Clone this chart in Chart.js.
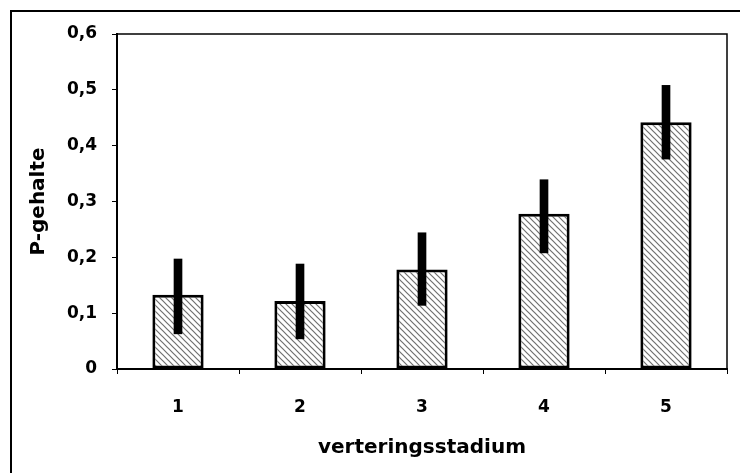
<!DOCTYPE html>
<html>
<head>
<meta charset="utf-8">
<script src="https://cdn.jsdelivr.net/npm/chart.js@4.4.1/dist/chart.umd.min.js"></script>
<style>
  html, body { margin: 0; padding: 0; background: #fff; }
  #wrap { position: relative; width: 740px; height: 473px; }
</style>
</head>
<body>
<div id="wrap"><canvas id="c"></canvas></div>
<script>
// ---- data ----
const categories = ['1', '2', '3', '4', '5'];
const pGehalte = [0.133, 0.122, 0.178, 0.278, 0.442];
const errLow   = [0.063, 0.054, 0.114, 0.208, 0.376];
const errHigh  = [0.197, 0.188, 0.244, 0.339, 0.508];
const yTickLabels = ['0', '0,1', '0,2', '0,3', '0,4', '0,5', '0,6'];
const xTitle = 'verteringsstadium';
const yTitle = 'P-gehalte';

// ---- hatch pattern ----
function makePattern() {
  const s = 6;
  const pc = document.createElement('canvas');
  pc.width = s; pc.height = s;
  const g = pc.getContext('2d');
  g.fillStyle = '#ffffff';
  g.fillRect(0, 0, s, s);
  g.strokeStyle = '#707070';
  g.lineWidth = 1.2;
  g.beginPath();
  g.moveTo(0, 0); g.lineTo(s, s);
  g.moveTo(-1, s - 1); g.lineTo(1, s + 1);
  g.moveTo(s - 1, -1); g.lineTo(s + 1, 1);
  g.stroke();
  return document.getElementById('c').getContext('2d').createPattern(pc, 'repeat');
}

const frames = {
  id: 'frames',
  beforeDraw(chart) {
    const ctx = chart.ctx;
    ctx.save();
    ctx.strokeStyle = '#000';
    ctx.lineWidth = 2;
    ctx.beginPath();
    ctx.moveTo(11, 473); ctx.lineTo(11, 11); ctx.lineTo(740, 11);
    ctx.stroke();
    ctx.restore();
  },
  beforeDatasetsDraw(chart) {
    const a = chart.chartArea;
    const ctx = chart.ctx;
    ctx.save();
    ctx.strokeStyle = '#000';
    ctx.lineWidth = 1.5;
    ctx.strokeRect(a.left, a.top, a.right - a.left, a.bottom - a.top);
    ctx.restore();
  }
};

const tickFont = { family: '"DejaVu Sans"', size: 17, weight: 'bold' };
const titleFont = { family: '"DejaVu Sans"', size: 20, weight: 'bold' };

new Chart(document.getElementById('c'), {
  type: 'bar',
  data: {
    labels: categories,
    datasets: [
      {
        label: 'err',
        data: categories.map((_, i) => [errLow[i], errHigh[i]]),
        backgroundColor: '#000',
        borderWidth: 0,
        barThickness: 8,
        grouped: false,
        order: 0
      },
      {
        label: yTitle,
        data: pGehalte,
        backgroundColor: makePattern(),
        borderColor: '#000',
        borderWidth: 3,
        borderSkipped: false,
        barPercentage: 0.42,
        categoryPercentage: 1,
        grouped: false,
        order: 1
      }
    ]
  },
  options: {
    responsive: true,
    maintainAspectRatio: false,
    animation: false,
    layout: { padding: { top: 34, right: 13, left: 0, bottom: 0 } },
    plugins: { legend: { display: false }, tooltip: { enabled: false } },
    scales: {
      x: {
        grid: { display: true, drawOnChartArea: false, drawTicks: true, tickLength: 5, color: '#000', offset: true },
        border: { display: true, color: '#000', width: 2 },
        ticks: { color: '#000', font: tickFont, padding: 23 },
        title: { display: true, text: xTitle, color: '#000', font: titleFont, padding: { top: 0, bottom: 13 } },
        afterFit(s) { s.height = 104; }
      },
      y: {
        min: 0, max: 0.6,
        grid: { display: true, drawOnChartArea: false, drawTicks: true, tickLength: 5, color: '#000' },
        border: { display: true, color: '#000', width: 2 },
        ticks: {
          stepSize: 0.1, color: '#000', font: tickFont, padding: 15,
          callback: (v, i) => yTickLabels[i]
        },
        title: { display: true, text: yTitle, color: '#000', font: titleFont, padding: { top: 27, bottom: 0 } },
        afterFit(s) { s.width = 117; }
      }
    }
  },
  plugins: [frames]
});
</script>
</body>
</html>
